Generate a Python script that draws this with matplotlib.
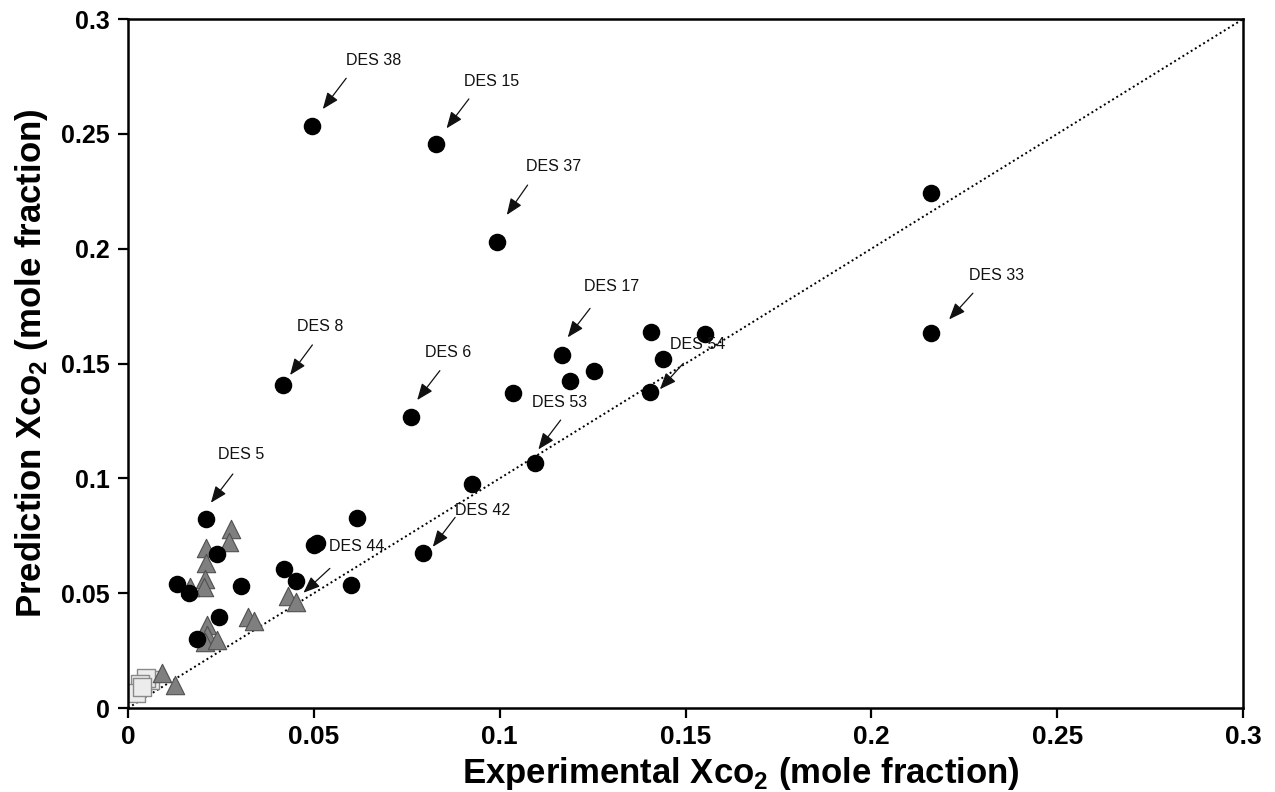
import matplotlib
matplotlib.use("Agg")
import matplotlib.pyplot as plt
from matplotlib import font_manager

plt.rcParams['font.family'] = ['Liberation Sans', 'DejaVu Sans']
plt.rcParams['mathtext.fontset'] = 'custom'
plt.rcParams['mathtext.rm'] = 'Liberation Sans'
plt.rcParams['mathtext.bf'] = 'Liberation Sans:bold'

# Circles (black)
circle_x = [0.0496, 0.0829, 0.0994, 0.2161, 0.2161, 0.0418, 0.0761, 0.1167, 0.1189, 0.1254,
            0.1035, 0.1407, 0.1440, 0.1552, 0.1403, 0.1095, 0.0925, 0.0793, 0.0617, 0.0500,
            0.0509, 0.0210, 0.0239, 0.0131, 0.0165, 0.0305, 0.0421, 0.0452, 0.0599, 0.0246,
            0.0185]
circle_y = [0.2535, 0.2454, 0.2030, 0.2241, 0.1631, 0.1406, 0.1266, 0.1537, 0.1425, 0.1467,
            0.1370, 0.1636, 0.1518, 0.1627, 0.1375, 0.1065, 0.0977, 0.0673, 0.0829, 0.0710,
            0.0720, 0.0822, 0.0672, 0.0540, 0.0499, 0.0531, 0.0607, 0.0553, 0.0534, 0.0398,
            0.0302]

# Triangles (grey)
tri_x = [0.0278, 0.0273, 0.0210, 0.0210, 0.0207, 0.0204, 0.0167, 0.0430, 0.0452, 0.0322,
         0.0339, 0.0212, 0.0213, 0.0207, 0.0239, 0.0092, 0.0126]
tri_y = [0.0778, 0.0724, 0.0698, 0.0630, 0.0560, 0.0525, 0.0528, 0.0488, 0.0463, 0.0395,
         0.0380, 0.0361, 0.0318, 0.0289, 0.0296, 0.0151, 0.0100]

# Squares (light grey)
sq_x = [0.0058, 0.0048, 0.0032, 0.0022, 0.0038]
sq_y = [0.0122, 0.0132, 0.0105, 0.0065, 0.0090]

# Annotations: label, text position, arrow tail, arrow tip
labels = ['DES 38', 'DES 15', 'DES 37', 'DES 33', 'DES 8', 'DES 6', 'DES 17',
          'DES 54', 'DES 53', 'DES 42', 'DES 5', 'DES 44']
text_xy = [(0.0662, 0.2818), (0.0979, 0.2727), (0.1146, 0.2360), (0.2337, 0.1885),
           (0.0518, 0.1663), (0.0862, 0.1547), (0.1301, 0.1834), (0.1532, 0.1585),
           (0.1162, 0.1331), (0.0953, 0.0858), (0.0304, 0.1106), (0.0615, 0.0705)]
tail_xy = [(0.0587, 0.2742), (0.0917, 0.2652), (0.1075, 0.2277), (0.2273, 0.1806),
           (0.0496, 0.1581), (0.0839, 0.1469), (0.1243, 0.1740), (0.1494, 0.1501),
           (0.1164, 0.1254), (0.0880, 0.0830), (0.0282, 0.1019), (0.0543, 0.0608)]
tip_xy = [(0.0524, 0.2608), (0.0857, 0.2524), (0.1019, 0.2147), (0.2209, 0.1692),
          (0.0436, 0.1450), (0.0778, 0.1341), (0.1183, 0.1614), (0.1431, 0.1388),
          (0.1104, 0.1126), (0.0820, 0.0702), (0.0223, 0.0894), (0.0472, 0.0502)]

ticks = [0, 0.05, 0.1, 0.15, 0.2, 0.25, 0.3]
tick_labels = ['0', '0.05', '0.1', '0.15', '0.2', '0.25', '0.3']

names = {f.name for f in font_manager.fontManager.ttflist}
narrow = 'Liberation Sans Narrow' if 'Liberation Sans Narrow' in names else 'Liberation Sans'

fig = plt.figure(figsize=(12.75, 7.92), dpi=100)
ax = fig.add_axes([0.1004, 0.106, 0.8746, 0.870])

ax.plot([0, 0.3], [0, 0.3], linestyle=(0, (1, 1.5)), color='black', linewidth=1.4, zorder=1)

ax.scatter(sq_x, sq_y, marker='s', s=150, facecolor='#ececec', edgecolor='#8a8a8a',
           linewidth=1.0, zorder=2)
ax.scatter(tri_x, tri_y, marker='^', s=175, facecolor='#7f7f7f', edgecolor='#505050',
           linewidth=0.8, zorder=3)
ax.scatter(circle_x, circle_y, marker='o', s=135, facecolor='black', edgecolor='black',
           zorder=4)

for lab, t, a, b in zip(labels, text_xy, tail_xy, tip_xy):
    ax.annotate('', xy=b, xytext=a,
                arrowprops=dict(arrowstyle='-|>,head_length=1.0,head_width=0.4',
                                color='#111111', lw=0.9, shrinkA=0, shrinkB=0), zorder=5)
    ax.text(t[0], t[1], lab, ha='center', va='center', fontsize=11.5, color='#111111', zorder=6)

ax.set_xlim(0, 0.3)
ax.set_ylim(0, 0.3)
ax.set_xticks(ticks)
ax.set_xticklabels(tick_labels, family=narrow, fontsize=19, fontweight='bold')
ax.set_yticks(ticks)
ax.set_yticklabels(tick_labels, fontsize=18, fontweight='bold')
for sp in ax.spines.values():
    sp.set_linewidth(1.8)
ax.tick_params(axis='both', direction='out', length=7, width=1.6)
ax.tick_params(axis='y', pad=6)
ax.tick_params(axis='x', pad=5)

ax.set_xlabel(r'Experimental Xco$_{\mathbf{2}}$ (mole fraction)', fontsize=25, fontweight='bold',
              labelpad=4)
ax.xaxis.set_label_coords(0.55, -0.068)
ax.set_ylabel(r'Prediction Xco$_{\mathbf{2}}$ (mole fraction)', fontsize=25, fontweight='bold',
              labelpad=8)

fig.savefig('out.png', dpi=100)
